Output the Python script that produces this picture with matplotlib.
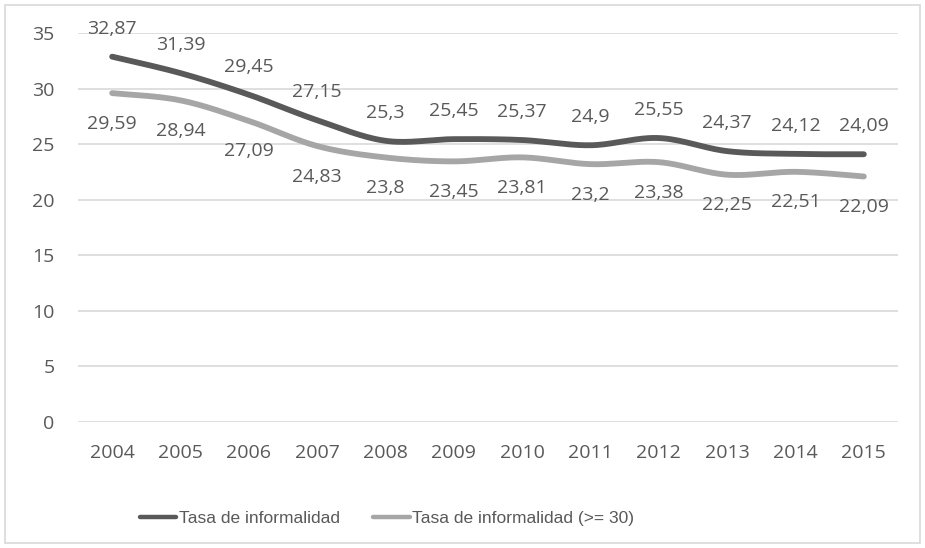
import numpy as np
import matplotlib
matplotlib.use('Agg')
import matplotlib.pyplot as plt
from matplotlib.patches import Rectangle

# ==========================================
# DATA
# ==========================================
years = ['2004', '2005', '2006', '2007', '2008', '2009',
         '2010', '2011', '2012', '2013', '2014', '2015']
tasa = [32.87, 31.39, 29.45, 27.15, 25.3, 25.45, 25.37, 24.9, 25.55, 24.37, 24.12, 24.09]
tasa_30 = [29.59, 28.94, 27.09, 24.83, 23.8, 23.45, 23.81, 23.2, 23.38, 22.25, 22.51, 22.09]
series_names = ['Tasa de informalidad', 'Tasa de informalidad (>= 30)']
yticks = [0, 5, 10, 15, 20, 25, 30, 35]

DARK = '#595959'
LIGHT = '#a6a6a6'
TEXT = '#595959'
GRID = '#d9d9d9'


def smooth(xs, ys, n=30):
    # Catmull-Rom style curve like Excel's "smoothed line"
    xs = np.asarray(xs, float)
    ys = np.asarray(ys, float)
    px = np.concatenate([[xs[0]], xs, [xs[-1]]])
    py = np.concatenate([[ys[0]], ys, [ys[-1]]])
    out_x, out_y = [], []
    t = np.linspace(0, 1, n)
    for i in range(1, len(px) - 2):
        p0, p1, p2, p3 = py[i - 1], py[i], py[i + 1], py[i + 2]
        q0, q1, q2, q3 = px[i - 1], px[i], px[i + 1], px[i + 2]
        c1y = p1 + (p2 - p0) / 6
        c2y = p2 - (p3 - p1) / 6
        c1x = q1 + (q2 - q0) / 6
        c2x = q2 - (q3 - q1) / 6
        b = [(1 - t) ** 3, 3 * (1 - t) ** 2 * t, 3 * (1 - t) * t ** 2, t ** 3]
        out_x.append(b[0] * q1 + b[1] * c1x + b[2] * c2x + b[3] * q2)
        out_y.append(b[0] * p1 + b[1] * c1y + b[2] * c2y + b[3] * p2)
    return np.concatenate(out_x), np.concatenate(out_y)


plt.rcParams['font.family'] = ['Open Sans', 'DejaVu Sans']

fig = plt.figure(figsize=(9.25, 5.48), dpi=100)
fig.patches.append(Rectangle((5 / 925, 5 / 548), 915 / 925, 538 / 548,
                             transform=fig.transFigure, fill=False,
                             edgecolor=GRID, linewidth=1.2))
ax = fig.add_axes([78 / 925, 1 - 422 / 548, 820 / 925, 389 / 548])

x = np.arange(len(years))
for vals, col, name, off in [(tasa, DARK, series_names[0], 20),
                             (tasa_30, LIGHT, series_names[1], -22)]:
    sx, sy = smooth(x, vals)
    ax.plot(sx, sy, color=col, linewidth=4.2, solid_capstyle='round', label=name, zorder=3)
    for xi, v in zip(x, vals):
        ax.annotate(f'{v:g}'.replace('.', ','), (xi, v), xytext=(0, off),
                    textcoords='offset points', ha='center', va='center',
                    fontsize=14, color=TEXT)

ax.set_xlim(-0.5, len(years) - 0.5)
ax.set_ylim(0, 35)
ax.set_yticks(yticks)
ax.set_xticks(x)
ax.set_xticklabels(years)
ax.yaxis.grid(True, color=GRID, linewidth=1.2)
ax.set_axisbelow(True)
for s in ax.spines.values():
    s.set_visible(False)
ax.tick_params(axis='both', length=0, labelsize=14, colors=TEXT)
ax.tick_params(axis='x', pad=16)
ax.tick_params(axis='y', pad=17)

# legend sits left of centre in the original
leg = fig.legend(loc='center left', bbox_to_anchor=(140 / 925, 30 / 548), ncol=2, frameon=False,
                 borderpad=0, borderaxespad=0,
                 handlelength=2.1, handletextpad=0.15, columnspacing=1.9,
                 prop={'family': ['Liberation Sans', 'DejaVu Sans'], 'size': 12.5})
for t in leg.get_texts():
    t.set_color(TEXT)
for h in leg.get_lines():
    h.set_linewidth(3.2)

fig.savefig('out.png', dpi=100)
